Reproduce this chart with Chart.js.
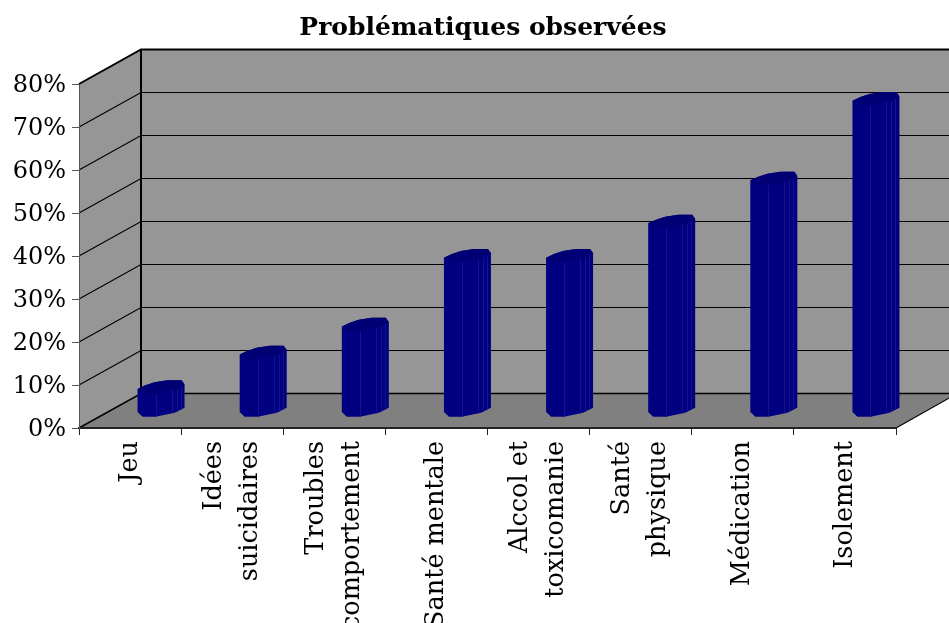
<!DOCTYPE html>
<html>
<head>
<meta charset="utf-8">
<script src="https://cdn.jsdelivr.net/npm/chart.js@4"></script>
<style>
  html, body { margin: 0; padding: 0; background: #fff; overflow: hidden; }
  #wrap { width: 949px; height: 623px; }
</style>
</head>
<body>
<div id="wrap"><canvas id="problemsChart"></canvas></div>
<script>
const CHART_ID = 'problemsChart';
const FONT_FAMILY = '"DejaVu Serif", serif';

const categories = [
  ['Jeu'],
  ['Idées', 'suicidaires'],
  ['Troubles', 'comportement'],
  ['Santé mentale'],
  ['Alccol et', 'toxicomanie'],
  ['Santé', 'physique'],
  ['Médication'],
  ['Isolement']
];
const percentages = [5.5, 13.5, 20, 36, 36, 44, 54, 72.5];
const yTickStep = 10;
const yMax = 80;

// how far the back wall sits behind the front of the chart
const DEPTH_X = 62;
const DEPTH_Y = 35;

const WALL = '#969696';
const FLOOR = '#808080';
const BAR = '#000080';
const BAR_TOP = '#000074';
const BAR_LINE = '#14148a';

// Outline of the faceted cap, measured from its left edge and top
const CAP_BACK = [[0, 8.7], [8, 5], [17, 2], [30, 0], [44, 0], [47, 4.3]];
const CAP_FRONT = [[47, 4.3], [37, 9.3], [18, 13.3], [5, 13.3], [0, 8.7]];
const FACET_LINES = [[18, 13.3], [34, 10], [39, 8.5], [43, 6.3]];
const CAP_HEIGHT = 13.3;

// Walls and floor, placed with the scales
const wallsPlugin = {
  id: 'walls',
  beforeDraw(chart) {
    const { ctx } = chart;
    const x = chart.scales.x;
    const y = chart.scales.y;
    const left = x.left;
    const right = x.right;
    const bottom = y.getPixelForValue(0);
    const top = y.getPixelForValue(yMax);

    ctx.save();
    ctx.fillStyle = WALL;
    ctx.fillRect(left + DEPTH_X, top - DEPTH_Y, right - left, bottom - top);
    ctx.beginPath();
    ctx.moveTo(left, top);
    ctx.lineTo(left + DEPTH_X, top - DEPTH_Y);
    ctx.lineTo(left + DEPTH_X, bottom - DEPTH_Y);
    ctx.lineTo(left, bottom);
    ctx.closePath();
    ctx.fill();

    ctx.fillStyle = FLOOR;
    ctx.beginPath();
    ctx.moveTo(left, bottom);
    ctx.lineTo(left + DEPTH_X, bottom - DEPTH_Y);
    ctx.lineTo(right + DEPTH_X, bottom - DEPTH_Y);
    ctx.lineTo(right, bottom);
    ctx.closePath();
    ctx.fill();

    ctx.strokeStyle = '#000';
    y.ticks.forEach(tick => {
      const py = y.getPixelForValue(tick.value);
      const backY = Math.round(py - DEPTH_Y) + 0.5;
      ctx.lineWidth = tick.value === yMax ? 2 : tick.value === 0 ? 1.5 : 1.2;
      ctx.beginPath();
      ctx.moveTo(left, py);
      ctx.lineTo(left + DEPTH_X, backY);
      ctx.lineTo(right + DEPTH_X, backY);
      ctx.stroke();
    });
    ctx.lineWidth = 1.2;
    ctx.beginPath();
    ctx.moveTo(right, bottom);
    ctx.lineTo(right + DEPTH_X, bottom - DEPTH_Y);
    ctx.stroke();

    ctx.lineWidth = 2;
    ctx.beginPath();
    ctx.moveTo(left + DEPTH_X, top - DEPTH_Y);
    ctx.lineTo(left + DEPTH_X, bottom - DEPTH_Y);
    ctx.stroke();
    ctx.restore();
  }
};

const drawCylinder = (ctx, bar) => {
  const scaleX = bar.width / 47;
  const leftX = bar.x + DEPTH_X / 2 - bar.width / 2;
  const topY = bar.y - DEPTH_Y / 2 - CAP_HEIGHT / 2;
  const baseY = bar.base - DEPTH_Y / 2 - CAP_HEIGHT / 2;

  // body: front edge of the base, then back across the top
  ctx.fillStyle = BAR;
  ctx.beginPath();
  CAP_FRONT.forEach(([px, py], i) => {
    const fn = i === 0 ? 'moveTo' : 'lineTo';
    ctx[fn](leftX + px * scaleX, baseY + py);
  });
  CAP_BACK.forEach(([px, py]) => ctx.lineTo(leftX + px * scaleX, topY + py));
  ctx.closePath();
  ctx.fill();

  // facet lines down the body
  ctx.strokeStyle = BAR_LINE;
  ctx.lineWidth = 1;
  FACET_LINES.forEach(([px, py]) => {
    const lineX = Math.round(leftX + px * scaleX) + 0.5;
    ctx.beginPath();
    ctx.moveTo(lineX, topY + py);
    ctx.lineTo(lineX, baseY + py);
    ctx.stroke();
  });

  // top cap
  ctx.fillStyle = BAR_TOP;
  ctx.beginPath();
  CAP_BACK.concat(CAP_FRONT).forEach(([px, py], i) => {
    const fn = i === 0 ? 'moveTo' : 'lineTo';
    ctx[fn](leftX + px * scaleX, topY + py);
  });
  ctx.closePath();
  ctx.fill();
};

const cylinderPlugin = {
  id: 'cylinders',
  beforeDatasetDraw(chart, args) {
    const { ctx } = chart;
    ctx.save();
    args.meta.data.forEach(bar => drawCylinder(ctx, bar));
    ctx.restore();
    return false;
  }
};

// Rotated category labels, lines centred on the category
const categoryLabelPlugin = {
  id: 'categoryLabels',
  afterLayout(chart) {
    // the title sits a little left of the plot's centre
    chart.titleBlock.left -= 9;
  },
  afterDatasetsDraw(chart) {
    const { ctx } = chart;
    const x = chart.scales.x;
    const lineGap = 36;
    ctx.save();
    ctx.font = '25.5px ' + FONT_FAMILY;
    ctx.fillStyle = '#000';
    ctx.textAlign = 'right';
    ctx.textBaseline = 'middle';
    categories.forEach((lines, i) => {
      const cx = x.getPixelForTick(i);
      lines.forEach((line, n) => {
        ctx.save();
        ctx.translate(cx + (n - (lines.length - 1) / 2) * lineGap, 441);
        ctx.rotate(-Math.PI / 2);
        ctx.fillText(line, 0, 0);
        ctx.restore();
      });
    });
    ctx.restore();
  }
};

window.onload = () => {
  new Chart(document.getElementById(CHART_ID), {
    type: 'bar',
    data: {
      labels: categories,
      datasets: [{
        label: 'Problématiques observées',
        data: percentages,
        backgroundColor: BAR,
        categoryPercentage: 0.46,
        barPercentage: 1
      }]
    },
    plugins: [wallsPlugin, cylinderPlugin, categoryLabelPlugin],
    options: {
      responsive: true,
      maintainAspectRatio: false,
      animation: false,
      layout: { padding: { right: 53 } },
      plugins: {
        legend: { display: false },
        tooltip: { enabled: false },
        title: {
          display: true,
          fullSize: false,
          text: 'Problématiques observées',
          color: '#000',
          font: { family: FONT_FAMILY, size: 25, weight: 'bold' },
          padding: { top: 13, bottom: 41 }
        }
      },
      scales: {
        x: {
          afterFit(scale) { scale.height = 195; },
          ticks: { display: false },
          grid: { drawOnChartArea: false, color: '#222', tickLength: 7, lineWidth: 1 },
          border: { color: '#222', width: 2 }
        },
        y: {
          min: 0,
          max: yMax,
          afterFit(scale) { scale.width = 79; },
          ticks: {
            stepSize: yTickStep,
            color: '#000',
            padding: 6,
            labelOffset: 2,
            font: { family: FONT_FAMILY, size: 24 },
            callback: value => value + '%'
          },
          grid: { drawOnChartArea: false, color: '#555', tickLength: 7, lineWidth: 1 },
          border: { color: '#555', width: 1 }
        }
      }
    }
  });
};
</script>
</body>
</html>
